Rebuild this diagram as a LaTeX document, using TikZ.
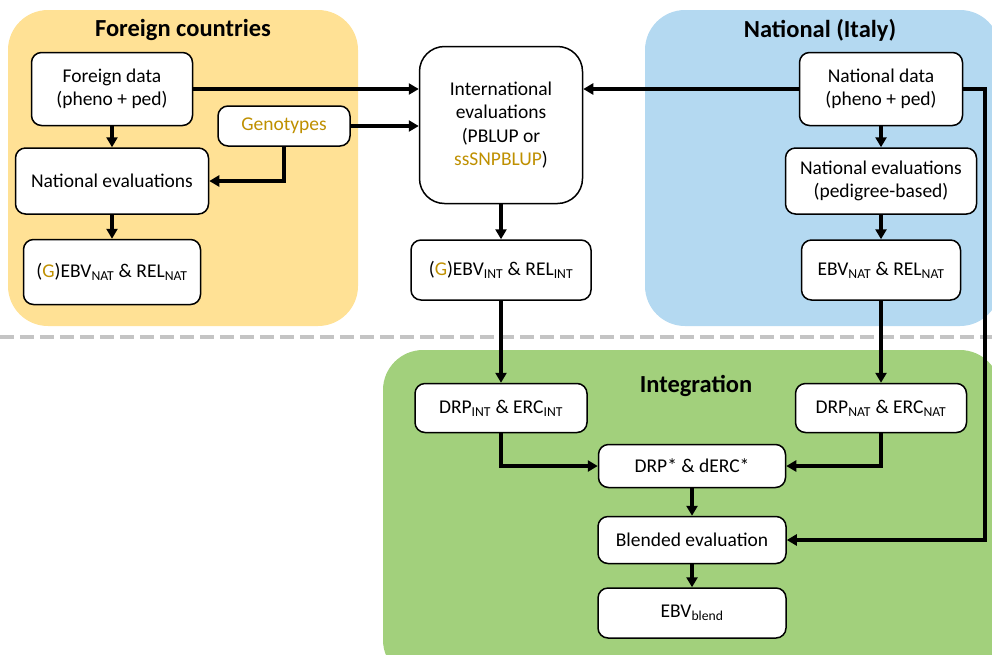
\documentclass[tikz,border=0pt]{standalone}
\usepackage{fontspec}
\setmainfont{Carlito}
\usetikzlibrary{arrows.meta}
\definecolor{bgyellow}{HTML}{FFE195}
\definecolor{bgblue}{HTML}{B4D9F1}
\definecolor{bggreen}{HTML}{A2D07C}
\definecolor{gold}{HTML}{BF9000}
\definecolor{sepgray}{HTML}{C4C4C4}
\newcommand{\lowsub}[1]{\textsubscript{#1}}
\tikzset{
  region/.style={rounded corners=40pt},
  title/.style={font=\fontsize{24.5}{28}\selectfont\bfseries},
  box/.style={draw=black, line width=1.5pt, fill=white, rounded corners=10pt,
    align=center, inner sep=2pt, font=\fontsize{19.5}{23.5}\selectfont},
  flow/.style={line width=3.4pt, -{Triangle[length=10pt,width=11pt]}},
}
\begin{document}
\begin{tikzpicture}[x=1pt,y=-1pt]
\clip (0,0) rectangle (992,654);
\useasboundingbox (0,0) rectangle (992,654);
% group backgrounds
\fill[bgyellow, region] (8,10) rectangle (358,326);
\fill[bgblue, region] (645,10) rectangle (1000,326);
\fill[bggreen, region] (383,350) rectangle (1000,680);
% separator
\draw[sepgray, line width=4pt, dash pattern=on 14pt off 6pt] (0,337) -- (992,337);
% titles
\node[title] (tforeign) at (183,30) {Foreign countries};
\node[title] (tnational) at (820,30) {National (Italy)};
\node[title] (tintegr) at (696,386) {Integration};
% foreign side
\node[box, minimum width=161pt, minimum height=73pt] (fdata) at (112,89) {Foreign data\\(pheno + ped)};
\node[box, minimum width=132pt, minimum height=40pt] (geno) at (284,126) {\textcolor{gold}{Genotypes}};
\node[box, minimum width=193pt, minimum height=66pt] (nevalL) at (112,181) {National evaluations};
\node[box, minimum width=177pt, minimum height=65pt] (gebvN) at (112,272) {(\textcolor{gold}{G})EBV\lowsub{NAT} \& REL\lowsub{NAT}};
% international
\node[box, rounded corners=25pt, minimum width=163pt, minimum height=157pt] (intl) at (501,125) {International\\evaluations\\(PBLUP or\\\textcolor{gold}{ssSNPBLUP})};
\node[box, minimum width=180pt, minimum height=60pt] (gebvI) at (501,270) {(\textcolor{gold}{G})EBV\lowsub{INT} \& REL\lowsub{INT}};
% national side
\node[box, minimum width=163pt, minimum height=73pt] (ndata) at (881,89) {National data\\(pheno + ped)};
\node[box, minimum width=191pt, minimum height=66pt] (nevalR) at (881,181) {National evaluations\\(pedigree-based)};
\node[box, minimum width=159pt, minimum height=60pt] (ebvN) at (881,270) {EBV\lowsub{NAT} \& REL\lowsub{NAT}};
% integration
\node[box, minimum width=172pt, minimum height=49pt] (drpI) at (501,408) {DRP\lowsub{INT} \& ERC\lowsub{INT}};
\node[box, minimum width=171pt, minimum height=49pt] (drpN) at (881,408) {DRP\lowsub{NAT} \& ERC\lowsub{NAT}};
\node[box, minimum width=187pt, minimum height=43pt] (drpS) at (692,466) {DRP* \& dERC*};
\node[box, minimum width=188pt, minimum height=47pt] (blend) at (692,540) {Blended evaluation};
\node[box, minimum width=188pt, minimum height=50pt] (ebvB) at (692,613) {EBV\lowsub{blend}};
\coordinate (rturn) at (985,89);
% connectors
\draw[flow] (fdata) -- (nevalL);
\draw[flow] (nevalL) -- (gebvN);
\draw[flow] (geno.south) |- (nevalL.east);
\draw[flow] (fdata.east) -- (fdata.east -| intl.west);
\draw[flow] (geno.east) -- (geno.east -| intl.west);
\draw[flow] (ndata.west) -- (ndata.west -| intl.east);
\draw[flow] (intl) -- (gebvI);
\draw[flow] (gebvI) -- (drpI);
\draw[flow] (ndata) -- (nevalR);
\draw[flow] (nevalR) -- (ebvN);
\draw[flow] (ebvN) -- (drpN);
\draw[flow] (drpI.south) |- (drpS.west);
\draw[flow] (drpN.south) |- (drpS.east);
\draw[flow] (drpS) -- (blend);
\draw[flow] (blend) -- (ebvB);
\draw[flow] (ndata.east) -- (rturn) |- (blend.east);
\end{tikzpicture}
\end{document}
